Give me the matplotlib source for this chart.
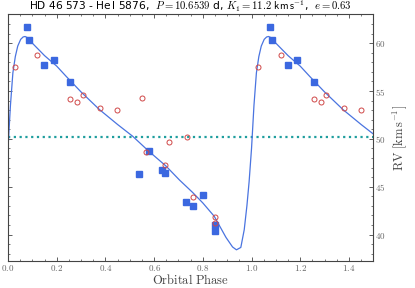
import matplotlib
matplotlib.use("Agg")
import numpy as np
from matplotlib import pyplot as plt
from matplotlib.ticker import MultipleLocator, FuncFormatter

plt.rcParams['mathtext.fontset'] = 'cm'

# DATA
sq_phase = [0.077, 0.085, 0.149, 0.188, 0.256, 0.538, 0.578, 0.631, 0.643,
            0.732, 0.758, 0.802, 0.851, 0.851]
sq_rv = [61.67, 60.35, 57.75, 58.2, 55.95, 46.28, 48.68, 46.73, 46.42,
         43.44, 42.95, 44.1, 41.0, 40.4]

ci_phase = [0.027, 0.120, 0.256, 0.285, 0.306, 0.379, 0.449, 0.551, 0.568,
            0.645, 0.660, 0.735, 0.758, 0.848, 0.851]
ci_rv = [57.5, 58.8, 54.2, 53.8, 54.6, 53.2, 53.05, 54.3, 48.65,
         47.25, 49.65, 50.24, 43.96, 41.87, 41.18]

# orbital solution
fit_phase = [0.000, 0.010, 0.020, 0.030, 0.040, 0.052, 0.062, 0.070, 0.078, 0.086,
             0.100, 0.150, 0.200, 0.240, 0.300, 0.376, 0.450, 0.512, 0.574,
             0.649, 0.704, 0.758, 0.800, 0.847, 0.895, 0.922, 0.938, 0.956,
             0.970, 0.981, 0.990, 1.000]
fit_rv = [49.0, 53.5, 56.9, 58.6, 59.7, 60.4, 60.65, 60.7, 60.6, 60.35,
          60.0, 58.7, 57.6, 56.5, 54.9, 53.05, 51.5, 50.27, 48.8,
          47.15, 45.7, 44.4, 43.3, 41.9, 39.7, 38.7, 38.4, 38.65,
          40.5, 43.0, 45.5, 49.0]

gamma = 50.2

#PLOT
fig = plt.figure(figsize=(4.15, 2.88), dpi=100)
ax = fig.add_axes([0.0193, 0.0927, 0.8802, 0.857])

fp = np.array(fit_phase)
fr = np.array(fit_rv)
ax.plot(np.concatenate([fp, fp[1:] + 1]), np.concatenate([fr, fr[1:]]),
        color='#4a74e0', lw=0.9, zorder=2)

ax.axhline(gamma, color='#1f9e9e', ls=(0, (1, 1.6)), lw=1.6, zorder=1)

sp = np.array(sq_phase)
cp = np.array(ci_phase)
ax.plot(np.concatenate([sp, sp + 1]), sq_rv + sq_rv, 's', ms=4.6,
        color='#3b68e0', mec='#3b68e0', zorder=3)
ax.plot(np.concatenate([cp, cp + 1]), ci_rv + ci_rv, 'o', ms=3.6,
        mfc='none', mec='#d04848', mew=0.7, zorder=4)

ax.set_xlim(0, 1.5)
ax.set_ylim(37.2, 63.0)

ax.xaxis.set_major_locator(MultipleLocator(0.2))
ax.xaxis.set_minor_locator(MultipleLocator(0.05))
ax.yaxis.set_major_locator(MultipleLocator(5))
ax.yaxis.set_minor_locator(MultipleLocator(1))
ax.xaxis.set_major_formatter(FuncFormatter(lambda v, p: f"${v:.1f}$"))
ax.yaxis.set_major_formatter(FuncFormatter(lambda v, p: f"${v:.0f}$"))

ax.tick_params(which='both', direction='in', top=True, right=True, left=True,
               labelleft=False, labelright=True, colors='#444444',
               labelcolor='#666666', labelsize=6.5, pad=1.5)
ax.tick_params(which='major', length=3, width=0.6)
ax.tick_params(which='minor', length=1.6, width=0.5)
for s in ax.spines.values():
    s.set_color('#444444')
    s.set_linewidth(0.8)

ax.yaxis.set_label_position('right')
ax.set_xlabel(r'$\mathrm{Orbital\ Phase}$', fontsize=9, color='#444444', labelpad=0)
ax.set_ylabel(r'$\mathrm{RV\ [km\,s^{-1}]}$', fontsize=9, color='#444444', labelpad=3)

ax.set_title(r'HD 46 573 - He$\,$I 5876,  $P = 10.6539$ d, $K_1 = 11.2$ $\mathsf{km\,s^{-1}}$,  $e = 0.63$',
             fontsize=7.7, pad=2.5)

fig.savefig('out.png', dpi=100)
